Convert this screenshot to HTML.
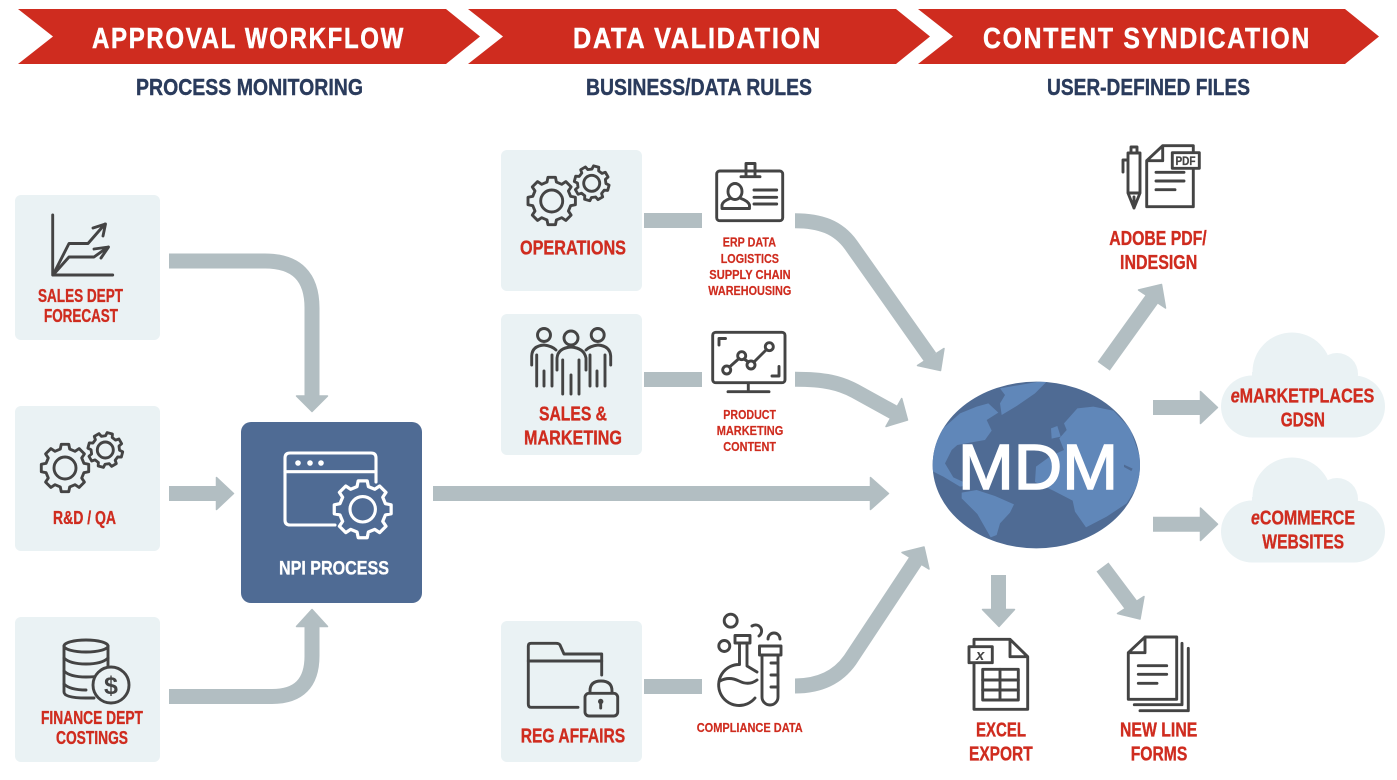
<!DOCTYPE html>
<html><head><meta charset="utf-8"><title>MDM workflow diagram</title>
<style>
html,body{margin:0;padding:0;background:#fff;width:1397px;height:780px;overflow:hidden}
svg{display:block}
text{font-family:"Liberation Sans",sans-serif;font-weight:bold}
.r{fill:#cf2c1f;stroke:#cf2c1f;stroke-width:.35;font-size:18px}
.rs{fill:#cf2c1f;stroke:#cf2c1f;stroke-width:.2;font-size:13px}
.b{fill:#fff;stroke:#fff;stroke-width:.5;font-size:29px;letter-spacing:2px}
.s{fill:#2a3b5c;stroke:#2a3b5c;stroke-width:.4;font-size:23.5px}
.ic{fill:none;stroke:#444;stroke-width:2.9;stroke-linecap:round;stroke-linejoin:round}
.c{fill:none;stroke:#b2bec2;stroke-width:15}
.h{fill:#b2bec2;stroke:#b2bec2;stroke-width:1.5;stroke-linejoin:round}
.box{fill:#eaf2f4}
.land{fill:#6087b9}
</style></head><body>
<svg width="1397" height="780" viewBox="0 0 1397 780" xmlns="http://www.w3.org/2000/svg">
<defs>
<path id="gear" d="M-4.72-18.92L-3.75-23.7L3.75-23.7L4.72-18.92L10.04-16.71L14.11-19.42L19.42-14.11L16.71-10.04L18.92-4.72L23.7-3.75L23.7 3.75L18.92 4.72L16.71 10.04L19.42 14.11L14.11 19.42L10.04 16.71L4.72 18.92L3.75 23.7L-3.75 23.7L-4.72 18.92L-10.04 16.71L-14.11 19.42L-19.42 14.11L-16.71 10.04L-18.92 4.72L-23.7 3.75L-23.7-3.75L-18.92-4.72L-16.71-10.04L-19.42-14.11L-14.11-19.42L-10.04-16.71Z"/>
<clipPath id="globe"><ellipse cx="349" cy="285" rx="311" ry="250"/></clipPath>
</defs>
<rect width="1397" height="780" fill="#fff"/>

<!-- banners -->
<polygon points="18,9 446,9 480,36.5 446,64 18,64 53,36.5" fill="#cf2c1f"/>
<polygon points="468,9 896,9 930,36.5 896,64 468,64 503,36.5" fill="#cf2c1f"/>
<polygon points="918,9 1345,9 1379,36.5 1345,64 918,64 953,36.5" fill="#cf2c1f"/>
<text class="b" x="92" y="48" textLength="313" lengthAdjust="spacingAndGlyphs">APPROVAL WORKFLOW</text>
<text class="b" x="573" y="48" textLength="249" lengthAdjust="spacingAndGlyphs">DATA VALIDATION</text>
<text class="b" x="983" y="48" textLength="328" lengthAdjust="spacingAndGlyphs">CONTENT SYNDICATION</text>
<text class="s" x="136" y="95" textLength="227" lengthAdjust="spacingAndGlyphs">PROCESS MONITORING</text>
<text class="s" x="586" y="95" textLength="226" lengthAdjust="spacingAndGlyphs">BUSINESS/DATA RULES</text>
<text class="s" x="1047" y="95" textLength="203" lengthAdjust="spacingAndGlyphs">USER-DEFINED FILES</text>

<!-- boxes -->
<rect class="box" x="15" y="195" width="145" height="145" rx="6"/>
<rect class="box" x="15" y="406" width="145" height="145" rx="6"/>
<rect class="box" x="15" y="617" width="145" height="145" rx="6"/>
<rect class="box" x="501" y="150" width="141" height="141" rx="6"/>
<rect class="box" x="501" y="314" width="141" height="141" rx="6"/>
<rect class="box" x="501" y="621" width="141" height="141" rx="6"/>
<rect x="241" y="422" width="181" height="181" rx="10" fill="#4f6b94"/>

<!-- connectors -->
<path class="c" d="M169 261H265Q312 261 312 308V396"/>
<polygon class="h" points="296.5,396 327.5,396 312,411.5"/>
<path class="c" d="M169 493.5H217"/>
<polygon class="h" points="216.5,477.5 216.5,509.5 233.5,493.5"/>
<path class="c" d="M169 696.5H272Q312 696.5 312 656V626"/>
<polygon class="h" points="296.5,626.5 327.5,626.5 312,609.5"/>
<path class="c" d="M433 493.5H871"/>
<polygon class="h" points="870.5,477.5 870.5,509.5 888.5,493.5"/>
<path class="c" d="M644 220.5H702M644 379.5H702M644 686.5H702"/>
<path class="c" d="M795 220.7C820 220.7 838 227 851 245L930 357"/>
<polygon class="h" points="944,348.5 940.5,370.5 917.5,365.5"/>
<path class="c" d="M795 379.3C825 379.3 840 383 855 391L894 412.5"/>
<polygon class="h" points="901.7,398.5 907.5,420 886,426.5"/>
<path class="c" d="M795 686C820 686 838 677 850 660L915.5 561"/>
<polygon class="h" points="902,552.5 924,547 929,569"/>
<path class="c" d="M1103.7 366.3L1152 299"/>
<polygon class="h" points="1138.5,290 1161.5,284.5 1165.5,308"/>
<path class="c" d="M1153 407.5H1201M1153 524.2H1201"/>
<polygon class="h" points="1200.5,391.5 1200.5,423.5 1217.5,407.5"/>
<polygon class="h" points="1200.5,508 1200.5,540.5 1217.5,524.2"/>
<path class="c" d="M998.5 575V610"/>
<polygon class="h" points="982.5,609.5 1014.5,609.5 999,626.5"/>
<path class="c" d="M1102.5 567L1131 605"/>
<polygon class="h" points="1144,596.5 1140,619 1117.5,613.5"/>

<!-- globe -->
<g transform="translate(920 370) scale(.33333)">
<ellipse cx="349" cy="285" rx="311" ry="250" fill="#4f6b94"/>
<g clip-path="url(#globe)">
<path class="land" d="M240 55L385 30L345 70L290 108L245 135L240 100L255 75Z"/>
<path class="land" d="M30 210L120 130L170 110L205 100L235 128L200 150L215 182L195 210L150 218L112 225L95 240L75 280L100 322L150 345L120 350L70 320L30 300Z"/>
<path class="land" d="M125 368L170 360L225 378L282 403L270 428L240 460L230 495L212 502L172 432L125 385Z"/>
<path class="land" d="M432 160L472 115L520 110L580 122L630 175L660 260L670 320L620 400L560 440L498 472L465 425L458 392L400 362L345 336L348 290L392 258L432 240L418 205L440 180Z"/>
<path class="land" d="M393 175L412 168L422 200L395 206Z"/>
</g>
<path d="M612 284L638 296L634 303L612 291Z" fill="#4f6b94"/>
</g>
<text x="958" y="489" font-size="64" textLength="160" lengthAdjust="spacingAndGlyphs" style="font-weight:normal;stroke:#fff;stroke-width:1.5" fill="#fff">MDM</text>

<!-- clouds -->
<g class="box">
<circle cx="1292" cy="372" r="39.5"/><circle cx="1337" cy="374" r="21"/><circle cx="1252" cy="406.5" r="31"/><circle cx="1354" cy="406.5" r="31"/><rect x="1252" y="372" width="102" height="65.5"/>
<g transform="translate(0 125)"><circle cx="1292" cy="372" r="39.5"/><circle cx="1337" cy="374" r="21"/><circle cx="1252" cy="406.5" r="31"/><circle cx="1354" cy="406.5" r="31"/><rect x="1252" y="372" width="102" height="65.5"/></g>
</g>

<!-- sales chart icon -->
<g class="ic">
<path d="M52.7 215V275H112.7"/>
<path d="M53 275L69 243.5H88L105 224M93 228L105.5 224L103 236"/>
<path d="M53 275L69 257H94L108 247M94 249L108.5 247L101 258"/>
</g>
<!-- gears -->
<g class="ic">
<use href="#gear" transform="translate(65 468)"/><circle cx="65" cy="468" r="11"/>
<use href="#gear" transform="translate(105.3 450) rotate(15) scale(.73)" style="stroke-width:3.9"/><circle cx="105.3" cy="450" r="8"/>
<use href="#gear" transform="translate(551.7 201)"/><circle cx="551.7" cy="201" r="11"/>
<use href="#gear" transform="translate(591.7 183.3) rotate(15) scale(.73)" style="stroke-width:3.9"/><circle cx="591.7" cy="183.3" r="8"/>
</g>
<!-- NPI icon -->
<g fill="none" stroke="#fff" stroke-width="3.1" stroke-linejoin="round" stroke-linecap="round">
<path d="M335 525H290Q285 525 285 520V458Q285 453 290 453H371Q376 453 376 458V482"/>
<path d="M285 471.7H376"/>
<use href="#gear" transform="translate(362.7 509.3) scale(1.2)" style="stroke-width:2.7"/>
<circle cx="362.7" cy="509.3" r="12.7"/>
</g>
<g fill="#fff"><circle cx="298" cy="463" r="2.8"/><circle cx="310" cy="463" r="2.8"/><circle cx="321" cy="463" r="2.8"/></g>
<!-- coins -->
<g class="ic">
<ellipse cx="86" cy="646" rx="22" ry="6"/>
<path d="M64 646V692Q64 698 86 698H94M108 646V668"/>
<path d="M64 658Q70 664 86 664T108 658M64 671Q70 677 86 677T104 673M64 684Q70 690 86 690"/>
<circle cx="111" cy="685" r="18" fill="#eaf2f4"/>
</g>
<text x="111" y="694" font-size="25" text-anchor="middle" fill="#444">$</text>
<!-- badge -->
<g class="ic">
<rect x="716.7" y="171" width="66" height="49.7" rx="3"/>
<path d="M746 176.7V163.5H755V176.7M741 176.7H760"/>
<ellipse cx="735" cy="191.5" rx="7" ry="8"/>
<path d="M722 208.5V205Q723 201 730 198.5M741 198.5Q748 201 749.5 205V208.5H722"/>
<path d="M754 190H776.7M754 197.3H776.7M754 204H776.7"/>
</g>
<!-- people -->
<g class="ic">
<circle cx="544" cy="335" r="6.5"/><circle cx="571" cy="338" r="7"/><circle cx="597.7" cy="335" r="6.5"/>
<path d="M531.7 365V356Q532 346 544 345Q552 346 556 350M610.7 365V356Q610 346 598 345Q590 346 586 350"/>
<path d="M557 370V358Q558 348 571 347Q584 348 586 358V370"/>
<path d="M562.7 360V394M571 375V394M579 360V394M536.7 355V386M544 371V386M552 355V386M590 355V386M597 371V386M605 355V386"/>
</g>
<!-- monitor -->
<g class="ic">
<rect x="712.7" y="332.3" width="72.3" height="50.4" rx="3"/>
<path d="M748.3 383V391.5M728 391.7H769"/>
<path d="M719 345V338.5H725.5M779 366.5V376H772"/>
<path d="M729.5 367L739 358.5M744 359L748.5 362M754 362L766.5 349.5"/>
<circle cx="726.7" cy="370" r="4"/><circle cx="741.7" cy="355.7" r="4"/><circle cx="751" cy="365" r="4"/><circle cx="769.3" cy="346.7" r="4"/>
</g>
<!-- folder -->
<g class="ic">
<path d="M601.7 675V654H564L560 645Q559 643.3 556 643.3H531Q528.3 643.3 528.3 646V704Q528.3 707.3 531 707.3H578"/>
<path d="M528.3 661H601.7"/>
<rect x="585" y="693.3" width="32.7" height="22.7" rx="4"/>
<path d="M590 693V691Q590 681 601 681Q612 681 612 691V693"/>
<path d="M600.7 701V708"/>
</g>
<circle cx="600.7" cy="701.5" r="2.7" fill="#444"/>
<!-- flask -->
<g class="ic">
<circle cx="730.7" cy="620.7" r="6.5"/><circle cx="724.3" cy="646" r="5.5"/>
<path d="M752 626A5.8 5.8 0 0 1 759 636M768 639A6 6 0 0 1 780 639"/>
<path d="M735 635.5H750V643H735Z"/>
<path d="M739.5 643V664.5A20.5 20.5 0 1 0 755 698M747 643V666L757 672"/>
<path d="M720 681Q729 676 739 681T757 680"/>
<path d="M759.5 646H781V655H759.5ZM762 655V697A8 8 0 0 0 778 697V655"/>
<path d="M771 663H778M771 675H778M771 687H778"/>
</g>
<!-- pdf icon -->
<g class="ic">
<path d="M1128 153H1140V193H1128ZM1131 153V147H1137V153M1128 193L1134 208L1140 193M1128 160H1123V172M1134 197V208"/>
<path d="M1146.7 160.7L1162.7 145.7H1193.3V206.7H1146.7ZM1162.7 145.7V160.7H1146.7"/>
<rect x="1172.3" y="152.7" width="27" height="15.6" fill="#fff"/>
<path d="M1156 172.3H1184M1156 181H1184M1156 189.7H1175"/>
</g>
<text x="1175.5" y="165" font-size="12" textLength="20" lengthAdjust="spacingAndGlyphs" fill="#444" stroke="#444" stroke-width=".3">PDF</text>
<!-- excel icon -->
<g class="ic">
<path d="M974 646V709.3H1027.7V656.7L1010 639.3H974V646M1010 639.3V656.7H1027.7"/>
<rect x="969" y="646.7" width="23.3" height="16" fill="#fff"/>
<rect x="982.7" y="669.3" width="35.6" height="30.7"/>
<path d="M1000 669.3V700M982.7 680H1018.3M982.7 690H1018.3"/>
</g>
<text x="976" y="660" font-size="15" fill="#444" style="font-style:italic">x</text>
<!-- forms icon -->
<g class="ic">
<path d="M1128.3 652.7L1145 637H1176.7V699.3H1128.3ZM1145 637V652.7H1128.3"/>
<path d="M1138.3 665.7H1166.7M1138.3 674.3H1166.7M1138.3 683.3H1157"/>
<path d="M1134.3 704.7H1182V643.3M1140 710.7H1188.3V648.3"/>
</g>

<!-- labels -->
<text class="r" x="38" y="302" textLength="85" lengthAdjust="spacingAndGlyphs">SALES DEPT</text>
<text class="r" x="44" y="322" textLength="74" lengthAdjust="spacingAndGlyphs">FORECAST</text>
<text class="r" x="53" y="524" textLength="63" lengthAdjust="spacingAndGlyphs">R&amp;D / QA</text>
<text class="r" x="41" y="724" textLength="102" lengthAdjust="spacingAndGlyphs">FINANCE DEPT</text>
<text class="r" x="56" y="744" textLength="72" lengthAdjust="spacingAndGlyphs">COSTINGS</text>
<text x="279" y="574.3" font-size="19" fill="#fff" stroke="#fff" stroke-width=".3" textLength="110" lengthAdjust="spacingAndGlyphs">NPI PROCESS</text>
<text class="r" style="font-size:20px" x="520" y="254.3" textLength="106" lengthAdjust="spacingAndGlyphs">OPERATIONS</text>
<text class="r" style="font-size:20px" x="539" y="420.7" textLength="68" lengthAdjust="spacingAndGlyphs">SALES &amp;</text>
<text class="r" style="font-size:20px" x="524" y="444.3" textLength="98" lengthAdjust="spacingAndGlyphs">MARKETING</text>
<text class="r" style="font-size:20px" x="520.7" y="742.7" textLength="104.5" lengthAdjust="spacingAndGlyphs">REG AFFAIRS</text>
<text class="rs" x="722.7" y="246.7" textLength="53.3" lengthAdjust="spacingAndGlyphs">ERP DATA</text>
<text class="rs" x="720.7" y="263" textLength="58.3" lengthAdjust="spacingAndGlyphs">LOGISTICS</text>
<text class="rs" x="709.3" y="279" textLength="81.4" lengthAdjust="spacingAndGlyphs">SUPPLY CHAIN</text>
<text class="rs" x="708.3" y="295" textLength="83" lengthAdjust="spacingAndGlyphs">WAREHOUSING</text>
<text class="rs" x="723.3" y="419" textLength="52.7" lengthAdjust="spacingAndGlyphs">PRODUCT</text>
<text class="rs" x="716.7" y="435" textLength="66.6" lengthAdjust="spacingAndGlyphs">MARKETING</text>
<text class="rs" x="723.3" y="451" textLength="52.7" lengthAdjust="spacingAndGlyphs">CONTENT</text>
<text class="rs" x="696.7" y="732" textLength="106" lengthAdjust="spacingAndGlyphs">COMPLIANCE DATA</text>
<text class="r" style="font-size:20px" x="1109.3" y="245" textLength="97.4" lengthAdjust="spacingAndGlyphs">ADOBE PDF/</text>
<text class="r" style="font-size:20px" x="1120" y="269" textLength="77.3" lengthAdjust="spacingAndGlyphs">INDESIGN</text>
<text class="r" style="font-size:20px" x="976" y="736.7" textLength="50" lengthAdjust="spacingAndGlyphs">EXCEL</text>
<text class="r" style="font-size:20px" x="969" y="760.7" textLength="63.7" lengthAdjust="spacingAndGlyphs">EXPORT</text>
<text class="r" style="font-size:20px" x="1120" y="736.7" textLength="77.3" lengthAdjust="spacingAndGlyphs">NEW LINE</text>
<text class="r" style="font-size:20px" x="1130.7" y="760.7" textLength="56.6" lengthAdjust="spacingAndGlyphs">FORMS</text>
<text class="r" style="font-size:20px" x="1230.7" y="402.7" textLength="143.6" lengthAdjust="spacingAndGlyphs"><tspan font-style="italic">e</tspan>MARKETPLACES</text>
<text class="r" style="font-size:20px" x="1280.7" y="426.7" textLength="44.3" lengthAdjust="spacingAndGlyphs">GDSN</text>
<text class="r" style="font-size:20px" x="1251" y="524.3" textLength="104" lengthAdjust="spacingAndGlyphs"><tspan font-style="italic">e</tspan>COMMERCE</text>
<text class="r" style="font-size:20px" x="1262.3" y="548.3" textLength="81.7" lengthAdjust="spacingAndGlyphs">WEBSITES</text>
</svg>
</body></html>
